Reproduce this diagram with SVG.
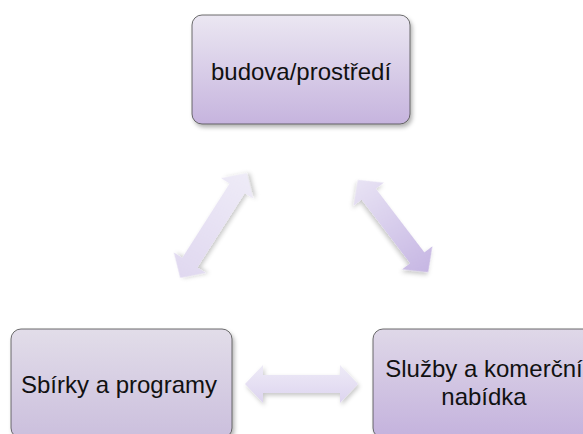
<svg xmlns="http://www.w3.org/2000/svg" width="583" height="434" viewBox="0 0 583 434">
  <defs>
    <linearGradient id="boxGrad" x1="0" y1="0" x2="0" y2="1">
      <stop offset="0" stop-color="#ebe7f2"/>
      <stop offset="1" stop-color="#c6b4de"/>
    </linearGradient>
    <linearGradient id="boxGradL" x1="0" y1="0" x2="0" y2="1">
      <stop offset="0" stop-color="#e2dde9"/>
      <stop offset="1" stop-color="#cbbfdd"/>
    </linearGradient>
    <linearGradient id="boxGradR" x1="0" y1="0" x2="0" y2="1">
      <stop offset="0" stop-color="#dfd8e8"/>
      <stop offset="1" stop-color="#c4b2dd"/>
    </linearGradient>
    <linearGradient id="arrH" x1="0" y1="0" x2="0" y2="1">
      <stop offset="0" stop-color="#eeebf7"/>
      <stop offset="1" stop-color="#ddd4ef"/>
    </linearGradient>
    <linearGradient id="arrL" x1="1" y1="0" x2="0" y2="0">
      <stop offset="0" stop-color="#eeebf7"/>
      <stop offset="1" stop-color="#e0d8f0"/>
    </linearGradient>
    <linearGradient id="arrR" x1="0" y1="0" x2="1" y2="0">
      <stop offset="0" stop-color="#e8e3f4"/>
      <stop offset="1" stop-color="#c6b6e3"/>
    </linearGradient>
    <filter id="shadow" x="-20%" y="-20%" width="140%" height="140%">
      <feDropShadow dx="2" dy="3" stdDeviation="2" flood-color="#000" flood-opacity="0.3"/>
    </filter>
    <filter id="ashadow" x="-20%" y="-40%" width="140%" height="180%">
      <feDropShadow dx="1.5" dy="2.5" stdDeviation="2" flood-color="#000" flood-opacity="0.22"/>
    </filter>
  </defs>
  <style>
    .box { stroke: #4a4a4a; stroke-width: 0.8; filter: url(#shadow); }
    .lbl { font-family: "Liberation Sans", Arial, sans-serif; font-size: 24px; fill: #111; text-anchor: middle; }
    .arr { filter: url(#ashadow); }
  </style>

  <g id="connectors">
    <polygon class="arr" fill="url(#arrL)" transform="translate(213.5 225.5) rotate(-57.5)"
      points="-62,0 -44,-19 -44,-9 44,-9 44,-19 62,0 44,19 44,9 -44,9 -44,19"/>
    <polygon class="arr" fill="url(#arrR)" transform="translate(393 226) rotate(52.7)"
      points="-58,0 -40,-19 -40,-9 40,-9 40,-19 58,0 40,19 40,9 -40,9 -40,19"/>
    <polygon class="arr" fill="url(#arrH)" transform="translate(301.5 384)"
      points="-56.5,0 -38.5,-19 -38.5,-9 38.5,-9 38.5,-19 56.5,0 38.5,19 38.5,9 -38.5,9 -38.5,19"/>
  </g>

  <g id="node-budova">
    <rect class="box" x="192" y="15" width="218" height="109" rx="10" fill="url(#boxGrad)"/>
    <text class="lbl" x="301" y="80">budova/prostředí</text>
  </g>

  <g id="node-sbirky">
    <rect class="box" x="11" y="329" width="221" height="109" rx="10" fill="url(#boxGradL)"/>
    <text class="lbl" x="119" y="393">Sbírky a programy</text>
  </g>

  <g id="node-sluzby">
    <rect class="box" x="373" y="329" width="221" height="109" rx="10" fill="url(#boxGradR)"/>
    <text class="lbl" x="484" y="377">Služby a komerční</text>
    <text class="lbl" x="484" y="405">nabídka</text>
  </g>
</svg>
